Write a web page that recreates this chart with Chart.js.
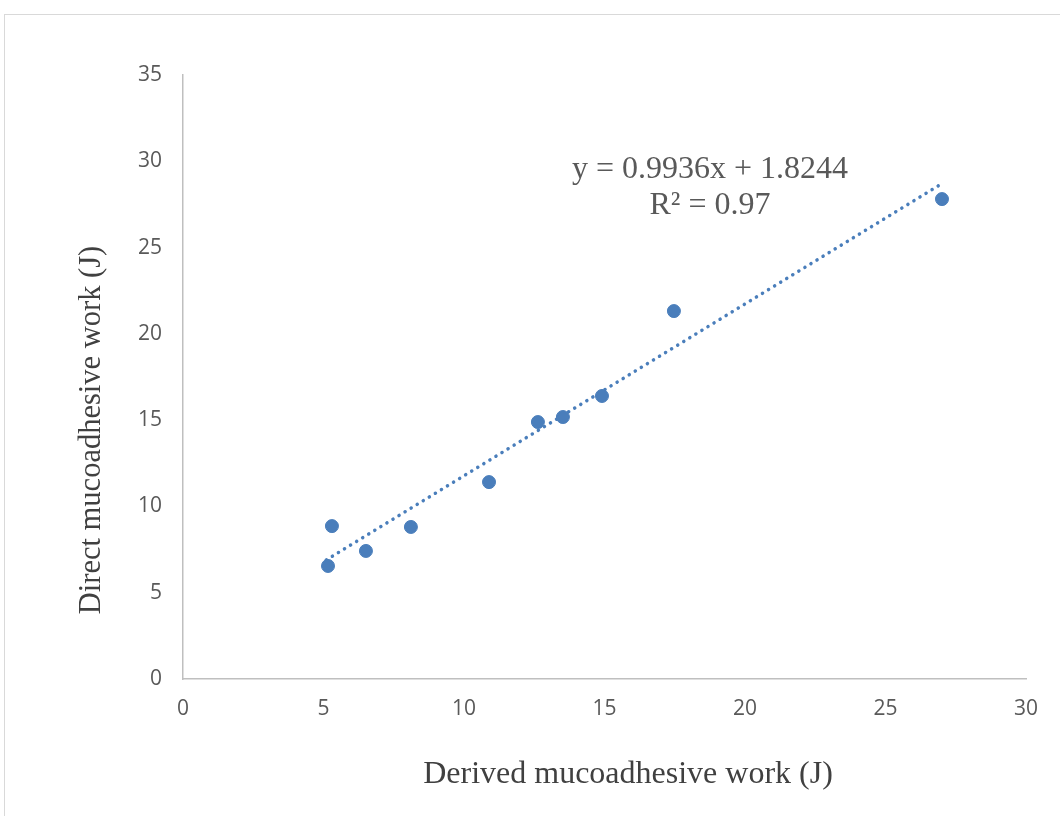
<!DOCTYPE html>
<html>
<head>
<meta charset="utf-8">
<script src="https://cdn.jsdelivr.net/npm/chart.js@4.4.1/dist/chart.umd.min.js"></script>
<style>
  html, body { margin: 0; padding: 0; background: #fff; }
  #wrap { position: relative; width: 1060px; height: 816px; overflow: hidden; }
  #frame { position: absolute; left: 4px; top: 14px; width: 1080px; height: 840px; border: 1.5px solid #d9d9d9; }
  #chart { position: absolute; left: 0; top: 0; }
</style>
</head>
<body>
<div id="wrap">
  <div id="frame"></div>
  <canvas id="chart" width="1060" height="816"></canvas>
</div>
<script>
// measured points (derived vs direct mucoadhesive work)
const derivedWork = [5.16, 5.30, 6.51, 8.11, 10.89, 12.63, 13.52, 14.91, 17.47, 27.01];
const directWork = [6.55, 8.86, 7.42, 8.81, 11.41, 14.89, 15.18, 16.40, 21.32, 27.81];

// linear trendline end points
const trendX = [5.1, 26.9];
const trendY = [6.9, 28.6];

const xTicks = [0, 5, 10, 15, 20, 25, 30];
const yTicks = [0, 5, 10, 15, 20, 25, 30, 35];

const equationLines = ['y = 0.9936x + 1.8244', 'R² = 0.97'];
const xTitle = 'Derived mucoadhesive work (J)';
const yTitle = 'Direct mucoadhesive work (J)';

const blue = '#4a7ebb';
const serif = '"Liberation Serif", "Times New Roman", serif';

// axis titles + equation label
const textPlugin = {
  id: 'textPlugin',
  afterDraw(chart) {
    const ctx = chart.ctx;
    ctx.save();
    ctx.fillStyle = '#404040';
    ctx.textAlign = 'center';
    ctx.textBaseline = 'middle';
    ctx.font = '32px ' + serif;
    ctx.fillText(xTitle, 628, 775);
    ctx.font = '30.5px ' + serif;
    ctx.translate(92, 430);
    ctx.rotate(-Math.PI / 2);
    ctx.fillText(yTitle, 0, 0);
    ctx.restore();

    ctx.save();
    ctx.fillStyle = '#595959';
    ctx.font = '32px ' + serif;
    ctx.textAlign = 'center';
    ctx.textBaseline = 'middle';
    ctx.fillText(equationLines[0], 710, 170);
    ctx.fillText(equationLines[1], 710, 206);
    ctx.restore();
  }
};

const tickFont = { family: '"Open Sans"', size: 21 };

const ctx = document.getElementById('chart').getContext('2d');
new Chart(ctx, {
  type: 'scatter',
  data: {
    datasets: [
      {
        label: 'Trend',
        type: 'line',
        data: trendX.map((x, i) => ({ x: x, y: trendY[i] })),
        borderColor: blue,
        borderWidth: 3.5,
        borderDash: [0.1, 7],
        borderCapStyle: 'round',
        pointRadius: 0,
        fill: false,
        order: 2
      },
      {
        label: 'Work',
        data: derivedWork.map((x, i) => ({ x: x, y: directWork[i] })),
        backgroundColor: blue,
        borderColor: blue,
        pointRadius: 6.5,
        order: 1
      }
    ]
  },
  options: {
    responsive: false,
    animation: false,
    layout: { padding: { left: 70, top: 75, right: 34, bottom: 0 } },
    plugins: {
      legend: { display: false },
      tooltip: { enabled: false }
    },
    scales: {
      x: {
        type: 'linear',
        min: 0,
        max: 30,
        afterBuildTicks: s => { s.ticks = xTicks.map(v => ({ value: v })); },
        afterFit: s => { s.height = 816 - 679; },
        grid: { display: false, drawTicks: false },
        border: { color: '#bfbfbf', width: 1.5 },
        ticks: { color: '#595959', font: tickFont, padding: 17 }
      },
      y: {
        type: 'linear',
        min: 0,
        max: 35,
        afterBuildTicks: s => { s.ticks = yTicks.map(v => ({ value: v })); },
        afterFit: s => { s.width = 183 - 70; },
        grid: { display: false, drawTicks: false },
        border: { color: '#bfbfbf', width: 1.5 },
        ticks: { color: '#595959', font: tickFont, padding: 21 }
      }
    }
  },
  plugins: [textPlugin]
});
</script>
</body>
</html>
